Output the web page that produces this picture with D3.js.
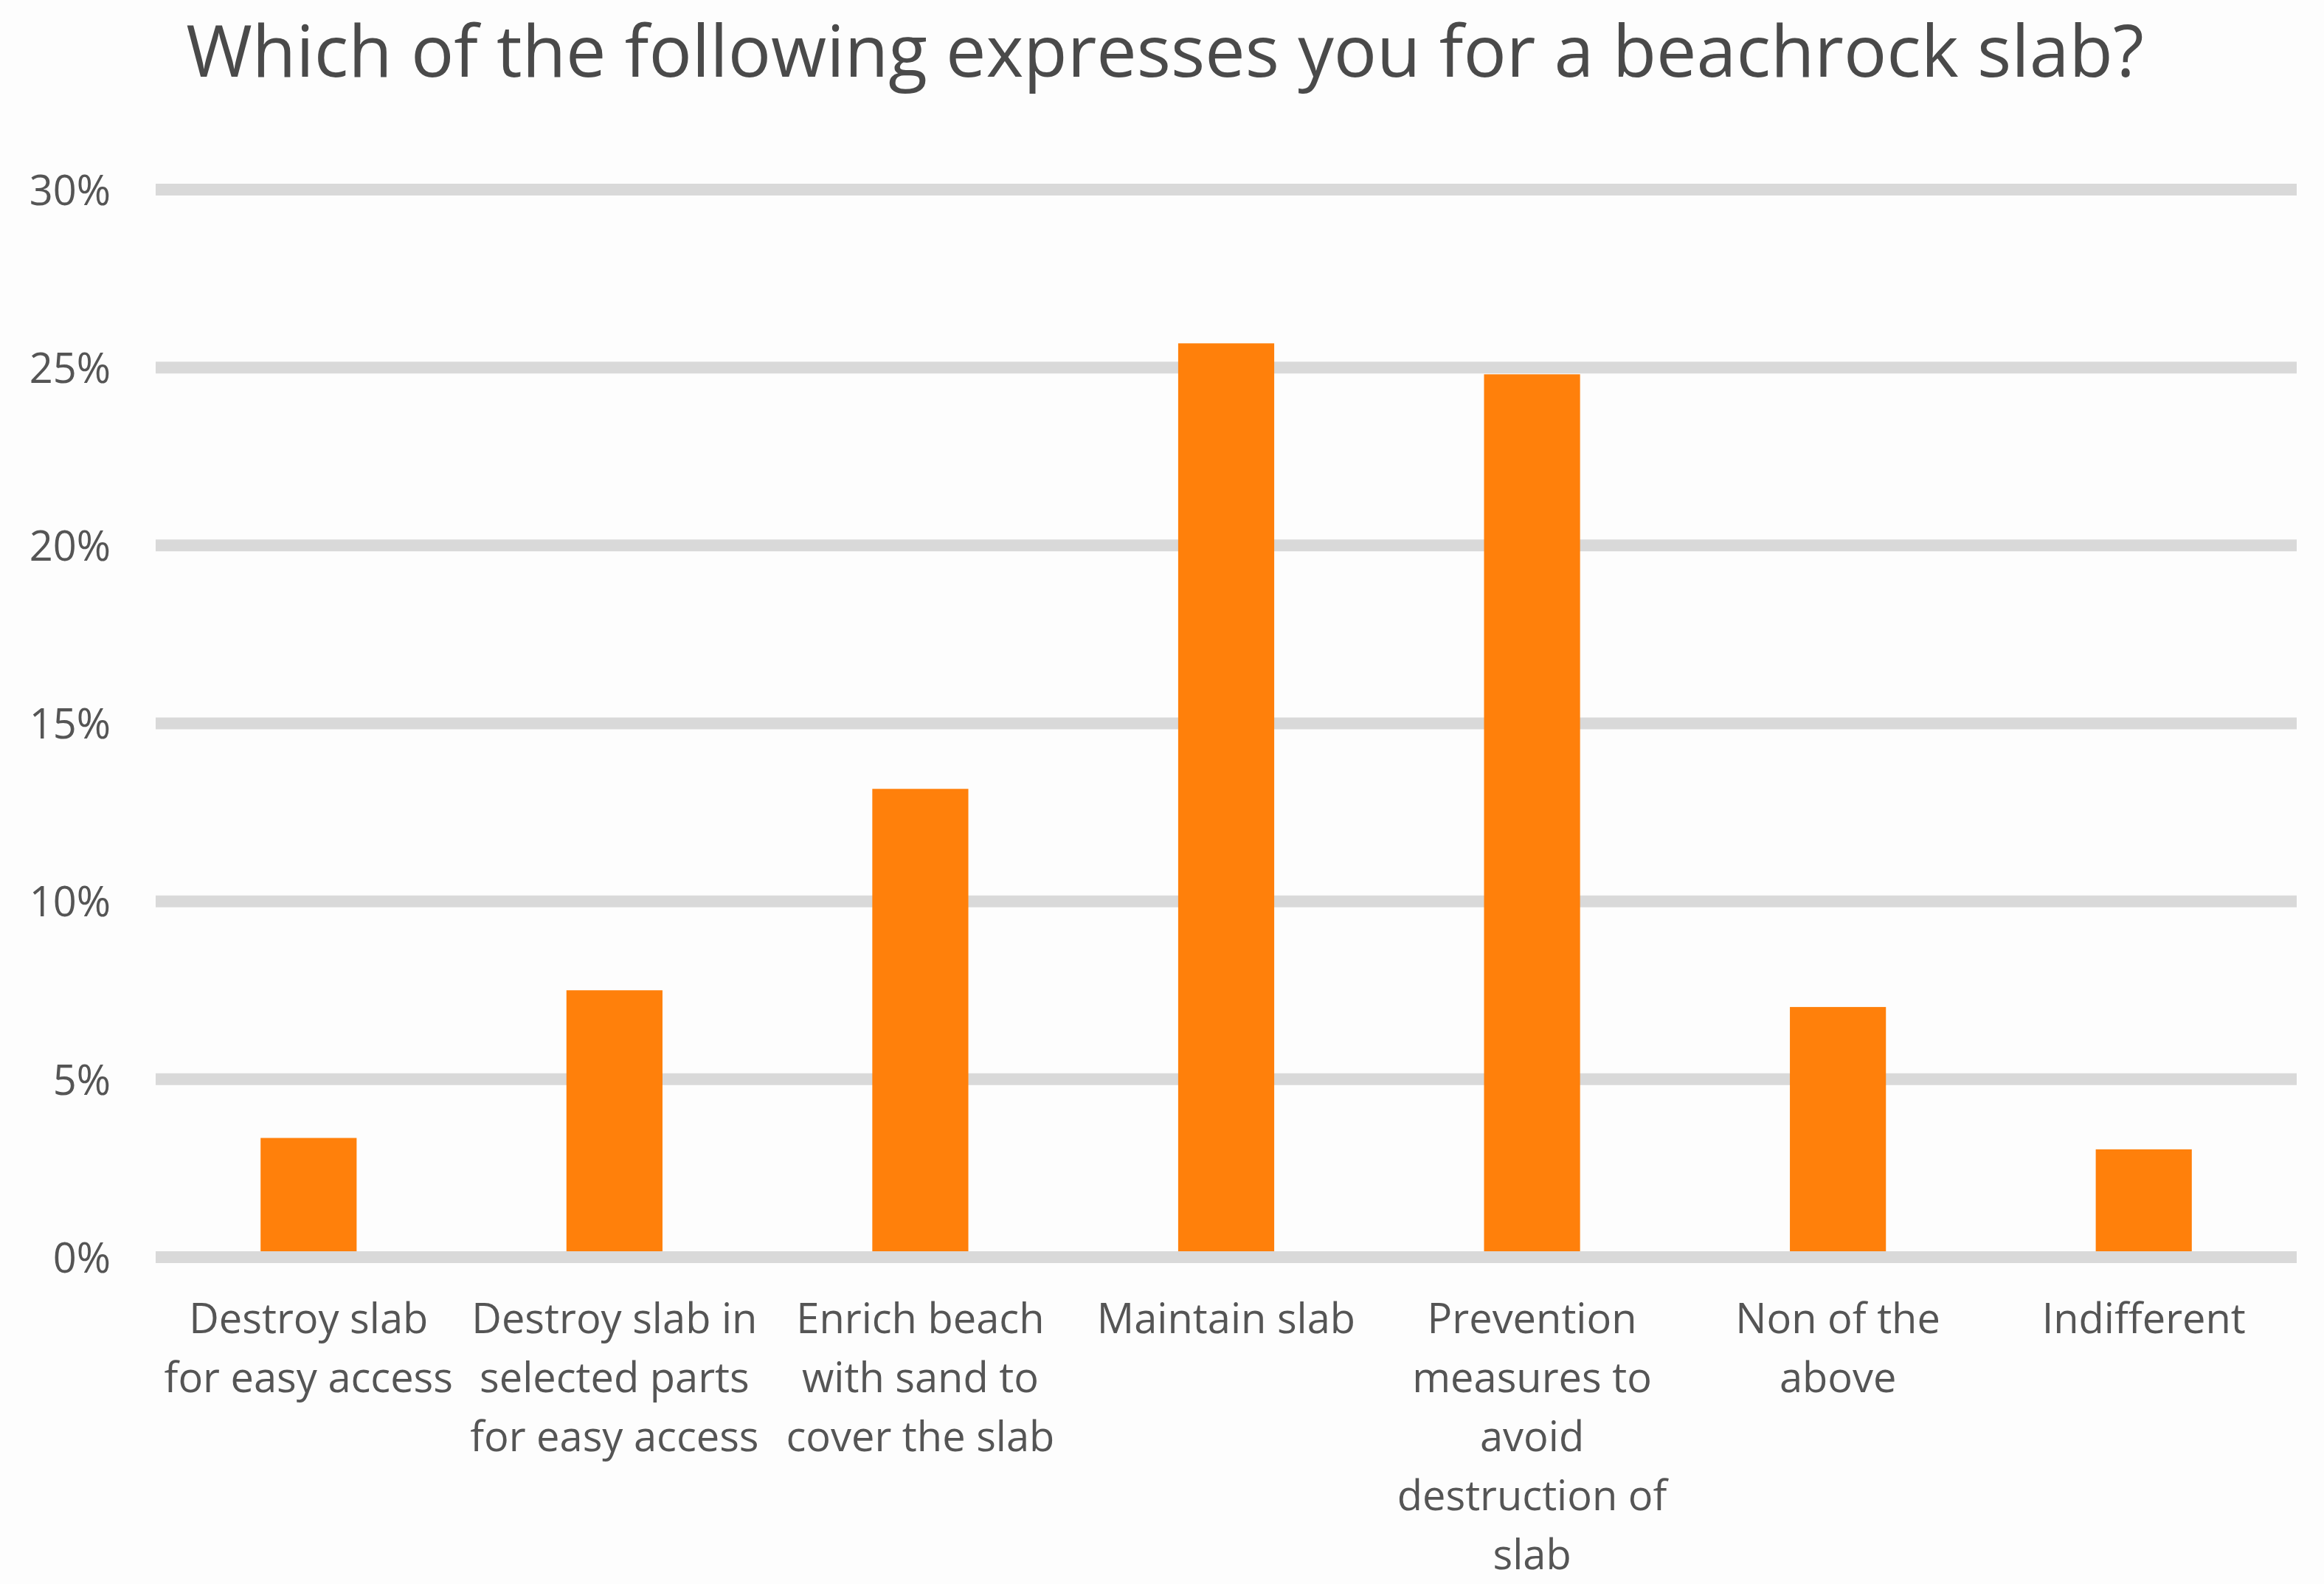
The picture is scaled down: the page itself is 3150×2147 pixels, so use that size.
<!DOCTYPE html>
<html>
<head>
<meta charset="utf-8">
<script src="https://cdn.jsdelivr.net/npm/d3@7"></script>
<style>
  body { margin: 0; background: #fdfdfd; }
  text { font-family: 'Open Sans', sans-serif; fill: #555; }
</style>
</head>
<body>
<div id="chart"></div>
<script>
var categories = [
  ['Destroy slab', 'for easy access'],
  ['Destroy slab in', 'selected parts', 'for easy access'],
  ['Enrich beach', 'with sand to', 'cover the slab'],
  ['Maintain slab'],
  ['Prevention', 'measures to', 'avoid', 'destruction of', 'slab'],
  ['Non of the', 'above'],
  ['Indifferent']
];
var values = [0.0335, 0.075, 0.1316, 0.2568, 0.2481, 0.0703, 0.0303];
var yTicks = [0, 0.05, 0.10, 0.15, 0.20, 0.25, 0.30];
var title = 'Which of the following expresses you for a beachrock slab?';

var W = 3150, H = 2147;
var margin = {top: 257, right: 37, bottom: 443, left: 211};
var width = W - margin.left - margin.right;
var height = H - margin.top - margin.bottom;

var svg = d3.select('#chart').append('svg')
  .attr('width', W)
  .attr('height', H);

svg.append('rect')
  .attr('width', W)
  .attr('height', H)
  .attr('fill', '#fdfdfd');

svg.append('text')
  .attr('x', 1579)
  .attr('y', 104)
  .attr('text-anchor', 'middle')
  .style('font-size', '97px')
  .style('fill', '#4a4a4a')
  .text(title);

var g = svg.append('g')
  .attr('transform', 'translate(' + margin.left + ',' + margin.top + ')');

var x = d3.scaleBand()
  .domain(d3.range(categories.length))
  .range([0, width]);

var y = d3.scaleLinear()
  .domain([0, 0.30])
  .range([height, 0]);

var barW = x.bandwidth() * 0.314;

// gridlines
g.append('g')
  .selectAll('line')
  .data(yTicks.slice(1))
  .join('line')
  .attr('x1', 0)
  .attr('x2', width)
  .attr('y1', function(d) { return y(d); })
  .attr('y2', function(d) { return y(d); })
  .attr('stroke', '#d9d9d9')
  .attr('stroke-width', 16);

// bars
g.append('g')
  .selectAll('rect')
  .data(values)
  .join('rect')
  .attr('x', function(d, i) { return x(i) + (x.bandwidth() - barW) / 2; })
  .attr('y', function(d) { return y(d); })
  .attr('width', barW)
  .attr('height', function(d) { return y(0) - y(d); })
  .attr('fill', '#ff800b');

// zero line on top
g.append('line')
  .attr('x1', 0)
  .attr('x2', width)
  .attr('y1', y(0))
  .attr('y2', y(0))
  .attr('stroke', '#d9d9d9')
  .attr('stroke-width', 16);

// y axis labels
var yAxis = d3.axisLeft(y)
  .tickValues(yTicks)
  .tickFormat(d3.format('.0%'))
  .tickSize(0)
  .tickPadding(61);

g.append('g')
  .attr('class', 'y axis')
  .call(yAxis)
  .call(function(s) { s.select('.domain').remove(); })
  .selectAll('text')
  .attr('dy', '0.36em')
  .style('font-family', "'Open Sans', sans-serif")
  .style('font-size', '56px')
  .style('fill', '#555');

// x axis labels
var xLabels = g.append('g')
  .attr('class', 'x axis')
  .selectAll('text')
  .data(categories)
  .join('text')
  .attr('x', function(d, i) { return x(i) + x.bandwidth() / 2; })
  .attr('y', height + 103)
  .attr('text-anchor', 'middle')
  .style('font-size', '56px');

xLabels.selectAll('tspan')
  .data(function(d) { return d; })
  .join('tspan')
  .attr('x', function() { return d3.select(this.parentNode).attr('x'); })
  .attr('dy', function(d, i) { return i === 0 ? 0 : 80; })
  .text(function(d) { return d; });
</script>
</body>
</html>
